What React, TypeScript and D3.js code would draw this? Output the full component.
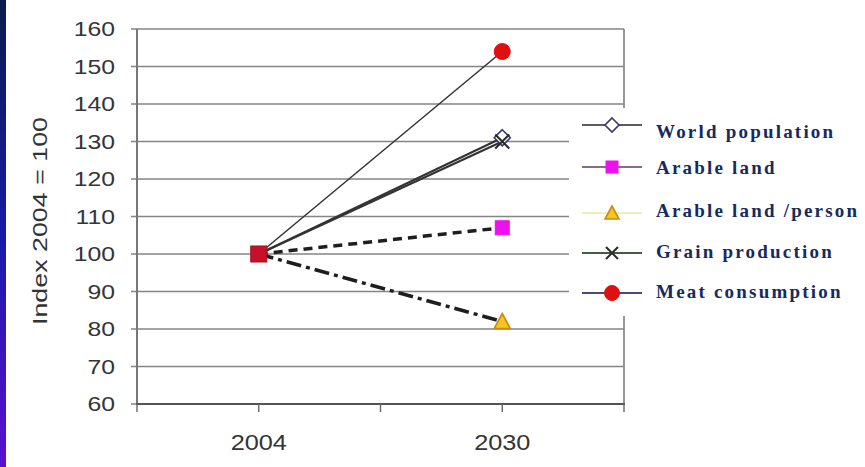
import React from "react";
import * as d3 from "d3";

// ---- data ----
const years = ["2004", "2030"];
const seriesNames = [
  "World population",
  "Arable land",
  "Arable land /person",
  "Grain production",
  "Meat consumption",
];
const worldPopulation = [100, 131];
const arableLand = [100, 107];
const arableLandPerPerson = [100, 82];
const grainProduction = [100, 130];
const meatConsumption = [100, 154];
const yTicks = [60, 70, 80, 90, 100, 110, 120, 130, 140, 150, 160];
const yLabel = "Index 2004 = 100";

const W = 865;
const H = 467;
const plot = { left: 137, right: 624, top: 29, bottom: 404 };

type Shape = "diamond" | "square" | "triangle" | "cross" | "circle";
interface Style {
  shape: Shape;
  fill: string;
  stroke: string;
  lineWidth: number;
  dash?: string;
  legendLine: string;
}
const styles: Style[] = [
  { shape: "diamond", fill: "#ffffff", stroke: "#3a3a6a", lineWidth: 2, legendLine: "#5a5a6a" },
  { shape: "square", fill: "#ee11ee", stroke: "#ee11ee", lineWidth: 3.5, dash: "9,6", legendLine: "#8a6a8a" },
  { shape: "triangle", fill: "#f7c520", stroke: "#c98a10", lineWidth: 3.5, dash: "15,5,4,5", legendLine: "#eeeebb" },
  { shape: "cross", fill: "none", stroke: "#2a2a2a", lineWidth: 2, legendLine: "#4a5a4a" },
  { shape: "circle", fill: "#e01010", stroke: "#e01010", lineWidth: 1.5, legendLine: "#4a4a7a" },
];
const seriesValues = [worldPopulation, arableLand, arableLandPerPerson, grainProduction, meatConsumption];

function Marker({ shape, x, y, s, fill, stroke }: { shape: Shape; x: number; y: number; s: number; fill: string; stroke: string }) {
  const h = s / 2;
  switch (shape) {
    case "diamond":
      return <path d={`M${x},${y - h - 1}L${x + h + 1},${y}L${x},${y + h + 1}L${x - h - 1},${y}Z`} fill={fill} stroke={stroke} strokeWidth={1.6} />;
    case "square":
      return <rect x={x - h} y={y - h} width={s} height={s} fill={fill} stroke={stroke} strokeWidth={1} />;
    case "triangle":
      return <path d={`M${x},${y - h - 1}L${x + h + 1},${y + h}L${x - h - 1},${y + h}Z`} fill={fill} stroke={stroke} strokeWidth={1.6} />;
    case "cross":
      return <path d={`M${x - h},${y - h}L${x + h},${y + h}M${x + h},${y - h}L${x - h},${y + h}`} stroke={stroke} strokeWidth={2} />;
    case "circle":
      return <circle cx={x} cy={y} r={h + 0.5} fill={fill} stroke={stroke} strokeWidth={1} />;
  }
}

export default function App() {
  const x = d3.scaleBand<string>().domain(years).range([plot.left, plot.right]);
  const cx = (d: string) => (x(d) as number) + x.bandwidth() / 2;
  const y = d3.scaleLinear().domain([60, 160]).range([plot.bottom, plot.top]);
  const line = d3
    .line<number>()
    .x((_, i) => cx(years[i]))
    .y((v) => y(v));

  // x-axis ticks at band edges and category centres
  const xTickPos = [
    ...x.domain().map((d) => x(d) as number),
    plot.right,
    ...years.map(cx),
  ];

  const legendMarkerY = [125, 167, 213, 253, 293];
  const legendTextY = [137.5, 174, 217, 258, 298];
  const legendBox = { x: 569, y: 108, w: W - 569, h: 208 };

  const tickFont = "'Liberation Sans', Arial, sans-serif";

  return (
    <svg width={W} height={H} style={{ position: "fixed", left: 0, top: 0, background: "#fff" }}>
      <defs>
        <linearGradient id="edge" x1="0" y1="0" x2="0" y2="1">
          <stop offset="0" stopColor="#0b1b4c" />
          <stop offset="0.5" stopColor="#1a1aa8" />
          <stop offset="1" stopColor="#5a10d0" />
        </linearGradient>
      </defs>
      <rect x={0} y={0} width={W} height={H} fill="#fff" />
      <rect x={0} y={0} width={6} height={H} fill="url(#edge)" />

      {/* gridlines + y ticks */}
      {yTicks.map((t) => (
        <line key={t} x1={plot.left - 6} x2={plot.right} y1={y(t)} y2={y(t)} stroke="#858585" strokeWidth={1.7} />
      ))}
      {/* plot frame */}
      <line x1={plot.right} x2={plot.right} y1={plot.top} y2={plot.bottom} stroke="#858585" strokeWidth={1.7} />
      <line x1={plot.left} x2={plot.left} y1={plot.top} y2={plot.bottom + 1} stroke="#777" strokeWidth={2} />
      <line x1={plot.left - 1} x2={plot.right + 1} y1={plot.bottom} y2={plot.bottom} stroke="#555" strokeWidth={1.8} />
      {xTickPos.map((p, i) => (
        <line key={i} x1={p} x2={p} y1={plot.bottom} y2={plot.bottom + 8} stroke="#666" strokeWidth={1.4} />
      ))}

      {/* y tick labels */}
      {yTicks.map((t) => (
        <text
          key={t}
          transform={`translate(115,${y(t)}) scale(1.18,1)`}
          textAnchor="end"
          dominantBaseline="central"
          fontFamily={tickFont}
          fontSize={21}
          fill="#353535"
        >
          {t}
        </text>
      ))}
      {/* x tick labels */}
      {years.map((d) => (
        <text
          key={d}
          transform={`translate(${cx(d)},443) scale(1.15,1)`}
          textAnchor="middle"
          dominantBaseline="central"
          fontFamily={tickFont}
          fontSize={22}
          fill="#353535"
        >
          {d}
        </text>
      ))}
      {/* y axis title */}
      <text
        transform={`translate(39,221) rotate(-90)`}
        textAnchor="middle"
        dominantBaseline="central"
        fontFamily={tickFont}
        fontSize={21}
        textLength={208}
        lengthAdjust="spacingAndGlyphs"
        fill="#333"
      >
        {yLabel}
      </text>

      {/* legend background hides the gridlines behind it */}
      <rect x={legendBox.x} y={legendBox.y} width={legendBox.w} height={legendBox.h} fill="#fff" />

      {/* series lines */}
      {seriesValues.map((vals, i) => (
        <path
          key={seriesNames[i]}
          d={line(vals) as string}
          fill="none"
          stroke={i === 1 || i === 2 ? "#1e1e1e" : "#333"}
          strokeWidth={styles[i].lineWidth}
          strokeDasharray={styles[i].dash}
        />
      ))}
      {/* series markers at the final year */}
      {seriesValues.map((vals, i) => (
        <Marker
          key={seriesNames[i]}
          shape={styles[i].shape}
          x={cx(years[1])}
          y={y(vals[1])}
          s={styles[i].shape === "circle" ? 15 : 14}
          fill={styles[i].fill}
          stroke={styles[i].stroke}
        />
      ))}
      {/* shared base point: every series is 100 in the base year */}
      <rect
        x={cx(years[0]) - 8}
        y={y(meatConsumption[0]) - 8}
        width={16}
        height={16}
        fill="#c8102a"
        stroke="#a01020"
        strokeWidth={1}
      />

      {/* legend */}
      {seriesNames.map((name, i) => (
        <g key={name}>
          <line x1={582} x2={642} y1={legendMarkerY[i]} y2={legendMarkerY[i]} stroke={styles[i].legendLine} strokeWidth={2} />
          <Marker
            shape={styles[i].shape}
            x={612}
            y={legendMarkerY[i]}
            s={styles[i].shape === "circle" ? 14 : 12}
            fill={styles[i].fill}
            stroke={styles[i].stroke}
          />
          <text
            x={656}
            y={legendTextY[i]}
            fontFamily="'Liberation Serif', 'Times New Roman', serif"
            fontWeight="bold"
            fontSize={19}
            letterSpacing={2.2}
            fill="#172a5e"
          >
            {name}
          </text>
        </g>
      ))}
    </svg>
  );
}
